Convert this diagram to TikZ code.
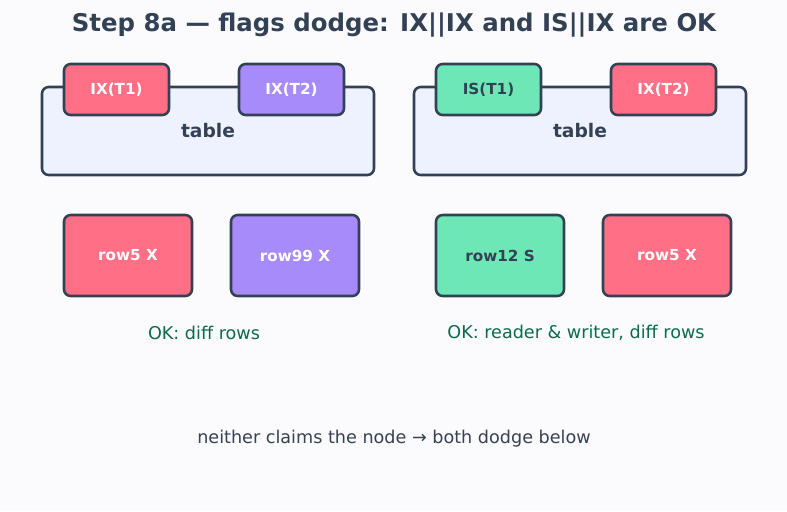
\documentclass[tikz,border=0pt]{standalone}
\usepackage{fontspec}
\setmainfont{DejaVu Sans}
\usetikzlibrary{positioning}
\definecolor{fondo}{HTML}{FBFBFE}
\definecolor{borde}{HTML}{334155}
\definecolor{rojo}{HTML}{FF6F86}
\definecolor{morado}{HTML}{A78BFA}
\definecolor{verde}{HTML}{6EE7B7}
\definecolor{tablafill}{HTML}{EEF2FF}
\definecolor{okverde}{HTML}{0B6B47}
\definecolor{gristexto}{HTML}{374151}

\begin{document}
\begin{tikzpicture}[
				x=0.75pt, y=-0.75pt,
				% --- Estilos ---
				tabla/.style={
					draw=borde,
					fill=tablafill,
					rectangle,
					rounded corners=5pt,
					minimum width=249pt,
					minimum height=66pt,
					line width=1.9pt
				},
				candado/.style={
					draw=borde,
					rectangle,
					rounded corners=5pt,
					minimum width=78.75pt,
					minimum height=38.25pt,
					line width=1.9pt,
					font=\fontsize{11.4}{13}\selectfont\bfseries,
					text=white
				},
				fila/.style={
					candado,
					minimum width=96pt,
					minimum height=60.75pt
				},
				nota/.style={
					font=\fontsize{13.2}{15}\selectfont,
					text=okverde
				}
				]
				% 0. Fondo y margenes
				\path[fill=fondo] (0,0) rectangle (787,511);
				\node[font=\fontsize{18.3}{22}\selectfont\bfseries, text=borde] (titulo) at (394,25)
				{Step 8a — flags dodge: IX||IX and IS||IX are OK};
				
				% 1. Tabla izquierda con sus candados
				\node[tabla] (tabla_izq) at (208,131) {};
				\node[font=\fontsize{14}{17}\selectfont\bfseries, text=borde] (texto_izq) at (208,131) {table};
				\node[candado, fill=rojo] (ix_t1) at (116.5,89.5) {IX(T1)};
				\node[candado, fill=morado] (ix_t2) at (291.5,89.5) {IX(T2)};
				
				% 2. Tabla derecha con sus candados
				\node[tabla] (tabla_der) at (580,131) {};
				\node[font=\fontsize{14}{17}\selectfont\bfseries, text=borde] (texto_der) at (580,131) {table};
				\node[candado, fill=verde, text=borde] (is_t1) at (488.5,89.5) {IS(T1)};
				\node[candado, fill=rojo] (ix_t2_der) at (663.5,89.5) {IX(T2)};
				
				% 3. Filas bloqueadas
				\node[fila, fill=rojo] (fila5) at (128,255.5) {row5 X};
				\node[fila, fill=morado] (fila99) at (295,255.5) {row99 X};
				\node[fila, fill=verde, text=borde] (fila12) at (500,255.5) {row12 S};
				\node[fila, fill=rojo] (fila5_der) at (667,255.5) {row5 X};
				
				% 4. Notas
				\node[nota] (nota_izq) at (204,333) {OK: diff rows};
				\node[nota] (nota_der) at (576,333) {OK: reader \& writer, diff rows};
				\node[nota, text=gristexto] (pie) at (394,439) {neither claims the node → both dodge below};
				
			\end{tikzpicture}
\end{document}
